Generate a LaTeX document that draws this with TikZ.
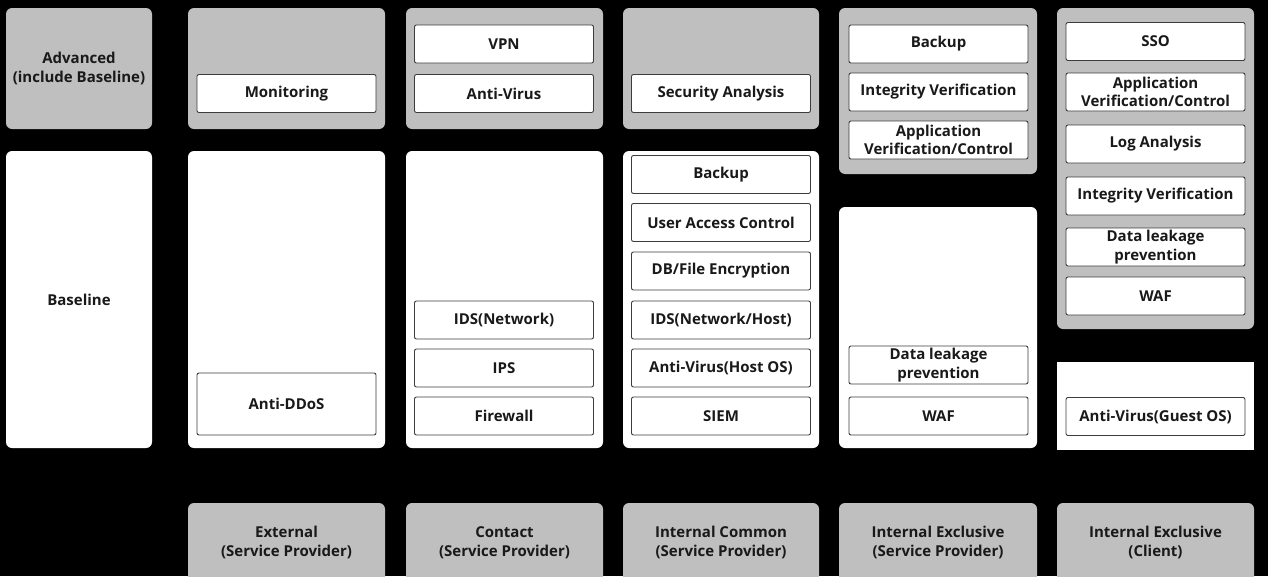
\documentclass[tikz,border=0pt]{standalone}
\usepackage{fontspec}
\setmainfont{Open Sans}
\usepackage{tikz}
\usetikzlibrary{positioning}
\definecolor{panelgray}{RGB}{191,191,191}
\definecolor{itemline}{RGB}{60,60,60}

\begin{document}
\begin{tikzpicture}[x=1pt,y=-1pt,
  every node/.style={font=\fontsize{15}{18.5}\selectfont\bfseries,align=center,inner sep=0pt,text=black!90},
  grp/.style={fill=panelgray,rounded corners=6pt},
  pan/.style={fill=white,rounded corners=6pt},
  item/.style={draw=itemline,line width=0.9pt,fill=white,rounded corners=2pt,minimum width=179pt,minimum height=38pt}]
\useasboundingbox (0,0) rectangle (1268,576);
\clip (0,0) rectangle (1268,576);
\fill[black] (0,0) rectangle (1268,576);
% Level labels
\draw (79,68.5) node[grp,minimum width=146pt,minimum height=121pt](adv){Advanced\\(include Baseline)};
\draw (79,299.5) node[pan,minimum width=146pt,minimum height=297pt](base){Baseline};
% External (Service Provider)
\draw (286.5,68.5) node[grp,minimum width=197pt,minimum height=121pt](ext_adv){};
\draw (286.5,299.5) node[pan,minimum width=197pt,minimum height=297pt](ext_base){};
\draw (286.5,93.5) node[item](ext_1){Monitoring};
\draw (286.5,404) node[item,minimum height=62pt](ext_2){Anti-DDoS};
\draw (286.5,542.5) node[grp,minimum width=197pt,minimum height=79pt](ext_lbl){External\\(Service Provider)};
% Contact (Service Provider)
\draw (504.5,68.5) node[grp,minimum width=197pt,minimum height=121pt](con_adv){};
\draw (504.5,299.5) node[pan,minimum width=197pt,minimum height=297pt](con_base){};
\draw (504,44) node[item](con_1){VPN};
\draw (504,93.5) node[item](con_2){Anti-Virus};
\draw (504,320) node[item](con_3){IDS(Network)};
\draw (504,368) node[item](con_4){IPS};
\draw (504,416) node[item](con_5){Firewall};
\draw (504.5,542.5) node[grp,minimum width=197pt,minimum height=79pt](con_lbl){Contact\\(Service Provider)};
% Internal Common (Service Provider)
\draw (721,68.5) node[grp,minimum width=196pt,minimum height=121pt](ic_adv){};
\draw (721,299.5) node[pan,minimum width=196pt,minimum height=297pt](ic_base){};
\draw (721,93.5) node[item](ic_1){Security Analysis};
\draw (721,174.5) node[item](ic_2){Backup};
\draw (721,222.5) node[item](ic_3){User Access Control};
\draw (721,271) node[item](ic_4){DB/File Encryption};
\draw (721,320) node[item](ic_5){IDS(Network/Host)};
\draw (721,368) node[item](ic_6){Anti-Virus(Host OS)};
\draw (721,416) node[item](ic_7){SIEM};
\draw (721,542.5) node[grp,minimum width=196pt,minimum height=79pt](ic_lbl){Internal Common\\(Service Provider)};
% Internal Exclusive (Service Provider)
\draw (938,91) node[grp,minimum width=198pt,minimum height=166pt](ie_adv){};
\draw (938,327.5) node[pan,minimum width=198pt,minimum height=241pt](ie_base){};
\draw (938.5,44) node[item](ie_1){Backup};
\draw (938.5,92) node[item](ie_2){Integrity Verification};
\draw (938.5,140) node[item](ie_3){Application\\Verification/Control};
\draw (938.5,365) node[item](ie_4){Data leakage\\prevention};
\draw (938.5,416) node[item](ie_5){WAF};
\draw (938,542.5) node[grp,minimum width=198pt,minimum height=79pt](ie_lbl){Internal Exclusive\\(Service Provider)};
% Internal Exclusive (Client)
\draw (1155.5,168.5) node[grp,minimum width=197pt,minimum height=321pt](cl_adv){};
\draw (1155.5,406) node[pan,sharp corners,minimum width=197pt,minimum height=88pt](cl_base){};
\draw (1155.5,41.5) node[item](cl_1){SSO};
\draw (1155.5,92) node[item](cl_2){Application\\Verification/Control};
\draw (1155.5,144) node[item](cl_3){Log Analysis};
\draw (1155.5,196) node[item](cl_4){Integrity Verification};
\draw (1155.5,247) node[item](cl_5){Data leakage\\prevention};
\draw (1155.5,296) node[item](cl_6){WAF};
\draw (1155.5,416.5) node[item](cl_7){Anti-Virus(Guest OS)};
\draw (1155.5,542.5) node[grp,minimum width=197pt,minimum height=79pt](cl_lbl){Internal Exclusive\\(Client)};
\end{tikzpicture}
\end{document}
